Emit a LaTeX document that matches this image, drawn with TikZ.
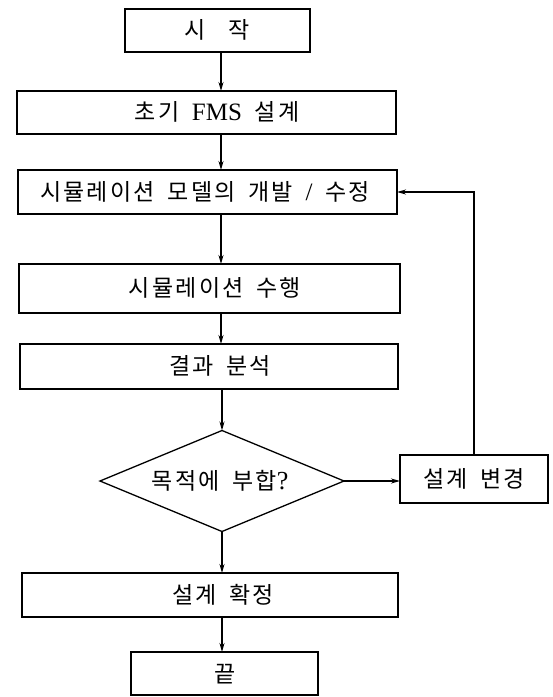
\documentclass[tikz,border=0pt]{standalone}
\usepackage{fontspec}
\setmainfont{Liberation Serif}
\newfontfamily\kr[LetterSpace=10,WordSpace=1.7]{Noto Sans CJK KR}
\usetikzlibrary{shapes.geometric,arrows.meta}
\begin{document}
\begin{tikzpicture}[x=1pt,y=-1pt,
  box/.style={draw,line width=1.6pt,inner sep=0pt,outer sep=0pt,rectangle},
  dia/.style={draw,line width=1.3pt,inner sep=0pt,outer sep=0pt,diamond},
  arr/.style={line width=1.3pt,-{Stealth[length=9pt,width=5pt]}},
  lbl/.style={font=\kr\fontsize{23}{27}\selectfont,inner sep=0pt}]
\useasboundingbox (0,0) rectangle (553,697);
\fill[white] (0,0) rectangle (553,697);
\coordinate (sp) at (221,0);
% boxes
\node[box,minimum width=185pt,minimum height=43pt] (start) at (217.5,30.5) {};
\node[box,minimum width=379pt,minimum height=43pt] (b2) at (206.5,112.5) {};
\node[box,minimum width=379pt,minimum height=44pt] (b3) at (207.5,192) {};
\node[box,minimum width=381pt,minimum height=49pt] (b4) at (209.5,288.5) {};
\node[box,minimum width=378pt,minimum height=45pt] (b5) at (209,366.5) {};
\node[dia,minimum width=244pt,minimum height=101pt] (dec) at (222,481) {};
\node[box,minimum width=148pt,minimum height=48pt] (chg) at (474,479) {};
\node[box,minimum width=376pt,minimum height=44pt] (fix) at (210,595) {};
\node[box,minimum width=187pt,minimum height=43pt] (fin) at (224.5,673.5) {};
% labels
\node[lbl] (t1) at (217,30) {시\quad 작};
\node[lbl] (t2) at (217,112) {초기 {\rmfamily\fontsize{25}{27}\selectfont FMS} 설계};
\node[lbl] (t3) at (205,192) {시뮬레이션 모델의 개발 {\rmfamily\fontsize{25}{27}\selectfont /} 수정};
\node[lbl] (t4) at (215,288) {시뮬레이션 수행};
\node[lbl] (t5) at (220,366) {결과 분석};
\node[lbl] (t6) at (220,481) {목적에 부합{\rmfamily\fontsize{26}{27}\selectfont ?}};
\node[lbl] (t7) at (474,479) {설계 변경};
\node[lbl] (t8) at (223,595) {설계 확정};
\node[lbl] (t9) at (225,674) {끝};
% connectors
\draw[arr] (start.south -| sp) -- (b2.north -| sp);
\draw[arr] (b2.south -| sp) -- (b3.north -| sp);
\draw[arr] (b3.south -| sp) -- (b4.north -| sp);
\draw[arr] (b4.south -| sp) -- (b5.north -| sp);
\draw[arr] (b5.south -| dec.north) -- (dec.north);
\draw[arr] (dec.south) -- (fix.north -| dec.south);
\draw[arr] (fix.south -| dec.south) -- (fin.north -| dec.south);
\draw[arr] (dec.east) -- (dec.east -| chg.west);
\draw[arr] (chg.north) |- (b3.east);
\end{tikzpicture}
\end{document}
